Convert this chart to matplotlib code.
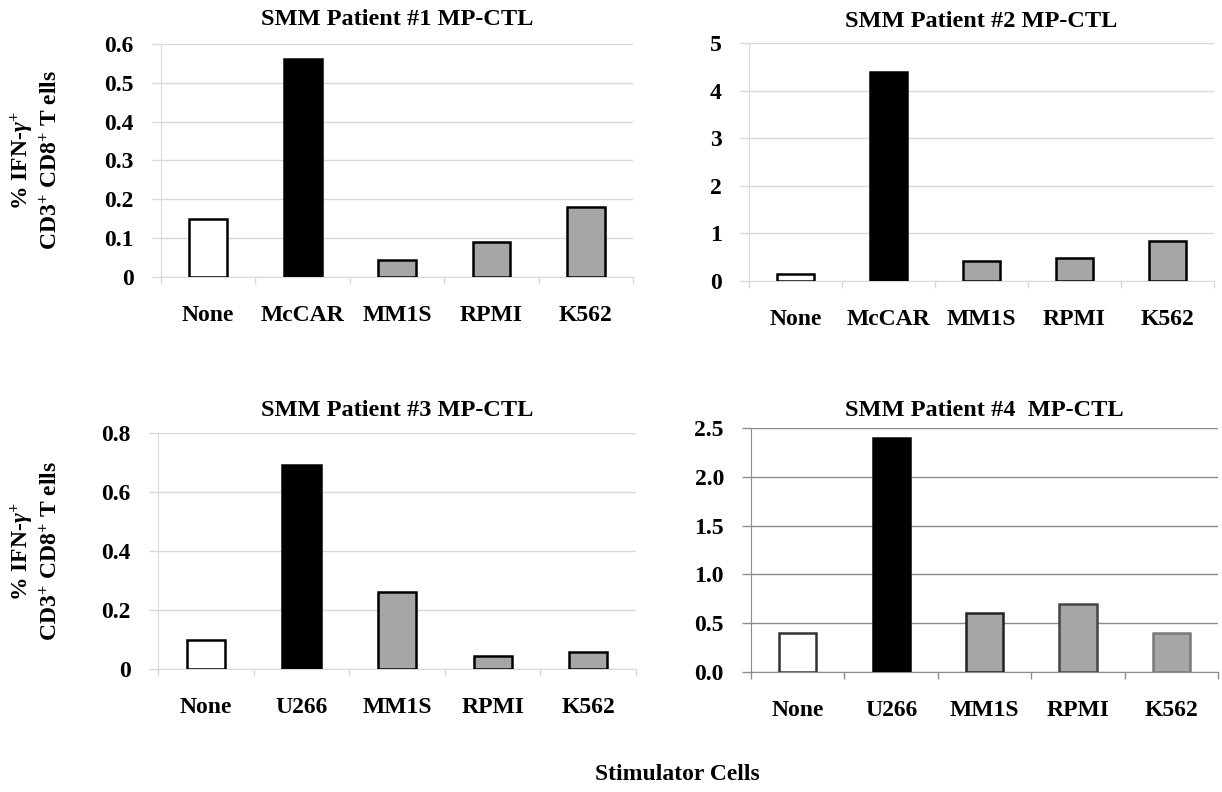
import matplotlib
matplotlib.use('Agg')
import matplotlib.pyplot as plt
import numpy as np

plt.rcParams['font.family'] = ['Liberation Serif', 'DejaVu Serif']
plt.rcParams['font.weight'] = 'bold'
plt.rcParams['mathtext.fontset'] = 'custom'
plt.rcParams['mathtext.rm'] = 'Liberation Serif:bold'
plt.rcParams['mathtext.it'] = 'Liberation Serif:italic:bold'
plt.rcParams['mathtext.bf'] = 'Liberation Serif:bold'

# data
cats_top = ['None', 'McCAR', 'MM1S', 'RPMI', 'K562']
cats_bot = ['None', 'U266', 'MM1S', 'RPMI', 'K562']
p1_vals = [0.15, 0.56, 0.043, 0.09, 0.18]
p2_vals = [0.15, 4.4, 0.42, 0.48, 0.85]
p3_vals = [0.10, 0.69, 0.26, 0.044, 0.059]
p4_vals = [0.40, 2.40, 0.60, 0.70, 0.40]

titles = ['SMM Patient #1 MP-CTL', 'SMM Patient #2 MP-CTL',
          'SMM Patient #3 MP-CTL', 'SMM Patient #4  MP-CTL']
p1_ticks = [0, 0.1, 0.2, 0.3, 0.4, 0.5, 0.6]
p1_labels = ['0', '0.1', '0.2', '0.3', '0.4', '0.5', '0.6']
p2_ticks = [0, 1, 2, 3, 4, 5]
p2_labels = ['0', '1', '2', '3', '4', '5']
p3_ticks = [0, 0.2, 0.4, 0.6, 0.8]
p3_labels = ['0', '0.2', '0.4', '0.6', '0.8']
p4_ticks = [0, 0.5, 1.0, 1.5, 2.0, 2.5]
p4_labels = ['0.0', '0.5', '1.0', '1.5', '2.0', '2.5']

ylabel = '% IFN-$\\mathit{\\gamma}^{+}$\nCD3$^{+}$ CD8$^{+}$ T ells'
fills = ['white', 'black', '#a6a6a6', '#a6a6a6', '#a6a6a6']

fig = plt.figure(figsize=(12.22, 7.92), dpi=100)

panels = [
   ([0.1318, 0.6503, 0.3862, 0.2942], cats_top, p1_vals, p1_ticks, p1_labels, 13.5, '#d9d9d9'),
   ([0.6129, 0.6452, 0.3805, 0.3001], cats_top, p2_vals, p2_ticks, p2_labels, 12, '#d9d9d9'),
   ([0.1293, 0.1553, 0.3912, 0.2980], cats_bot, p3_vals, p3_ticks, p3_labels, 12, '#d9d9d9'),
   ([0.6146, 0.1515, 0.3823, 0.3081], cats_bot, p4_vals, p4_ticks, p4_labels, 8.5, '#8c8c8c'),
]

axes = []
for i, (rect, cats, vals, ticks, tlabels, tpad, gcol) in enumerate(panels):
   ax = fig.add_axes(rect)
   x = np.arange(len(cats))
   edges = ['black'] * len(cats)
   if i == 3:
      edges = ['#333333', 'black', '#222222', '#444444', '#7a7a7a']
   ax.bar(x, vals, width=0.40, color=fills, edgecolor=edges, linewidth=1.8, zorder=3)
   ax.set_xlim(-0.5, len(cats) - 0.5)
   ax.set_ylim(ticks[0], ticks[-1])
   ax.set_yticks(ticks)
   ax.set_yticklabels(tlabels, fontsize=17, fontweight='bold')
   ax.set_xticks(x)
   ax.set_xticklabels(cats, fontsize=17, fontweight='bold')
   ax.set_xticks(np.arange(len(cats) + 1) - 0.5, minor=True)
   ax.tick_params(axis='x', which='major', length=0, pad=20)
   ax.tick_params(axis='x', which='minor', length=5, color=gcol, width=1)
   ax.tick_params(axis='y', length=6.5, color=gcol, width=1, pad=13)
   ax.grid(axis='y', color=gcol, linewidth=1, zorder=0)
   for s in ['top', 'right']:
      ax.spines[s].set_visible(False)
   ax.spines['left'].set_color(gcol)
   ax.spines['bottom'].set_color(gcol)
   ax.spines['left'].set_zorder(1)
   ax.set_title(titles[i], fontsize=17.5, fontweight='bold', pad=tpad)
   axes.append(ax)

for ax, xc in [(axes[0], -0.21), (axes[2], -0.20)]:
   ax.set_ylabel(ylabel, fontsize=17, fontweight='bold', linespacing=1.2)
   ax.yaxis.set_label_coords(xc, 0.5)

fig.text(0.554, 0.022, 'Stimulator Cells', ha='center', va='center', fontsize=17, fontweight='bold')

fig.savefig('out.png', dpi=100)
